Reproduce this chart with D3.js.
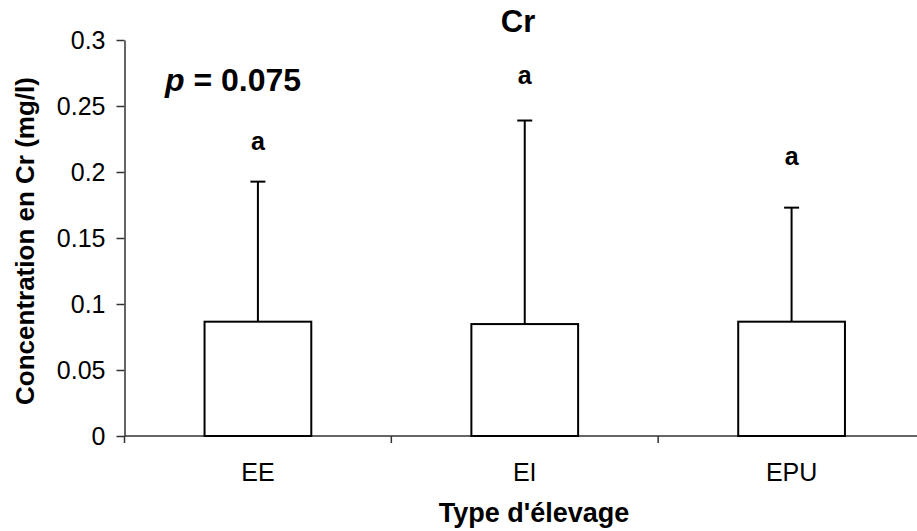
<!DOCTYPE html>
<html>
<head>
<meta charset="utf-8">
<script src="https://cdn.jsdelivr.net/npm/d3@7"></script>
<style>
  html, body { margin: 0; padding: 0; background: #fff; }
  svg { display: block; font-family: "Liberation Sans", Arial, sans-serif; }
  .axis path, .axis line { stroke: #333; stroke-width: 1.5; }
  .axis text { fill: #000; }
</style>
</head>
<body>
<div id="chart"></div>
<script>
// ============ 数据 ============
const categories = ['EE', 'EI', 'EPU'];
const means = [0.0866, 0.0848, 0.0866];
const errors = [0.1061, 0.1542, 0.0864];
const letters = ['a', 'a', 'a'];
const letterLevels = [0.217, 0.267, 0.205];
const yTicks = [0, 0.05, 0.1, 0.15, 0.2, 0.25, 0.3];
const yTickLabels = ['0', '0.05', '0.1', '0.15', '0.2', '0.25', '0.3'];

const width = 917;
const height = 531;
const margin = { top: 40, right: -8, bottom: 95, left: 124.5 };

const svg = d3.select('#chart')
  .append('svg')
  .attr('width', width)
  .attr('height', height);

// 比例尺
const x = d3.scaleBand()
  .domain(categories)
  .range([margin.left, width - margin.right])
  .paddingInner(0.6)
  .paddingOuter(0.3);

const y = d3.scaleLinear()
  .domain([0, 0.3])
  .range([height - margin.bottom, margin.top]);

// 边界刻度 (类别之间)
const xEdge = d3.scaleLinear()
  .domain([0, categories.length])
  .range([margin.left, width - margin.right]);

// y 轴
const yAxis = svg.append('g')
  .attr('class', 'axis')
  .attr('transform', `translate(${margin.left},0)`)
  .call(d3.axisLeft(y).tickValues(yTicks)
    .tickFormat((d, i) => yTickLabels[i])
    .tickSizeInner(8).tickSizeOuter(0).tickPadding(11));
yAxis.selectAll('text').style('font-size', '25px');

// x 轴
const xAxis = svg.append('g')
  .attr('class', 'axis')
  .attr('transform', `translate(0,${y(0)})`);
xAxis.append('line')
  .attr('x1', margin.left).attr('x2', width - margin.right)
  .attr('y1', 0).attr('y2', 0);
xAxis.selectAll('line.tick')
  .data(d3.range(categories.length + 1))
  .join('line')
  .attr('class', 'tick')
  .attr('x1', d => xEdge(d)).attr('x2', d => xEdge(d))
  .attr('y1', 0).attr('y2', 7);
xAxis.selectAll('text')
  .data(categories)
  .join('text')
  .attr('x', d => x(d) + x.bandwidth() / 2)
  .attr('y', 45)
  .attr('text-anchor', 'middle')
  .style('font-size', '25px')
  .text(d => d);

// 误差线
const bars = categories.map((c, i) => ({ c, mean: means[i], err: errors[i], letter: letters[i], lv: letterLevels[i] }));
const cx = d => x(d.c) + x.bandwidth() / 2;

svg.append('g')
  .selectAll('line')
  .data(bars)
  .join('line')
  .attr('x1', cx).attr('x2', cx)
  .attr('y1', d => y(d.mean)).attr('y2', d => y(d.mean + d.err))
  .attr('stroke', '#000').attr('stroke-width', 2);

svg.append('g')
  .selectAll('line')
  .data(bars)
  .join('line')
  .attr('x1', d => cx(d) - 7.5).attr('x2', d => cx(d) + 7.5)
  .attr('y1', d => y(d.mean + d.err)).attr('y2', d => y(d.mean + d.err))
  .attr('stroke', '#000').attr('stroke-width', 2);

// 柱子
svg.append('g')
  .selectAll('rect')
  .data(bars)
  .join('rect')
  .attr('x', d => x(d.c))
  .attr('y', d => y(d.mean))
  .attr('width', x.bandwidth())
  .attr('height', d => y(0) - y(d.mean))
  .attr('fill', '#fff')
  .attr('stroke', '#000')
  .attr('stroke-width', 2);

// 显著性字母
svg.append('g')
  .selectAll('text')
  .data(bars)
  .join('text')
  .attr('x', cx)
  .attr('y', d => y(d.lv))
  .attr('text-anchor', 'middle')
  .style('font-size', '25px')
  .style('font-weight', 'bold')
  .text(d => d.letter);

// 标题
svg.append('text')
  .attr('x', 518)
  .attr('y', 32)
  .attr('text-anchor', 'middle')
  .style('font-size', '31px')
  .style('font-weight', 'bold')
  .text('Cr');

// p 值
const pText = svg.append('text')
  .attr('x', 165)
  .attr('y', 91)
  .style('font-size', '32px')
  .style('font-weight', 'bold');
pText.append('tspan').style('font-style', 'italic').text('p');
pText.append('tspan').text(' = 0.075');

// 轴标题
svg.append('text')
  .attr('x', 534)
  .attr('y', 522)
  .attr('text-anchor', 'middle')
  .style('font-size', '27px')
  .style('font-weight', 'bold')
  .text("Type d'élevage");

svg.append('text')
  .attr('transform', 'translate(34,241) rotate(-90)')
  .attr('text-anchor', 'middle')
  .style('font-size', '26px')
  .style('font-weight', 'bold')
  .text('Concentration en Cr (mg/l)');
</script>
</body>
</html>
